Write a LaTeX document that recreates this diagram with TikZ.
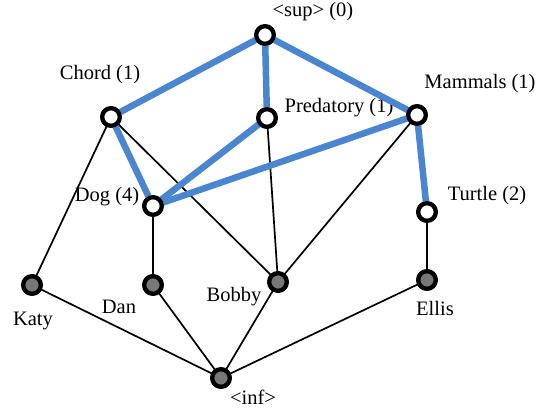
\documentclass[tikz,border=0pt]{standalone}
\usepackage{fontspec}
\setmainfont{Liberation Serif}
\definecolor{edgeblue}{RGB}{74,134,208}
\definecolor{fillgray}{RGB}{120,120,120}
\begin{document}
\begin{tikzpicture}[x=1pt,y=-1pt,
  concept/.style={circle,draw=black,line width=4.2pt,fill=white,minimum size=17.5pt,inner sep=0pt},
  object/.style={circle,draw=black,line width=4.2pt,fill=fillgray,minimum size=17.5pt,inner sep=0pt},
  lab/.style={font=\fontsize{20.5}{24}\selectfont,inner sep=0pt},
  blueedge/.style={edgeblue,line width=6.5pt},
  blackedge/.style={black,line width=1.7pt}]
\useasboundingbox (0,0) rectangle (539,414);
% nodes
\node[concept] (sup) at (265,35) {};
\node[concept] (chord) at (111,117) {};
\node[concept] (pred) at (267,118) {};
\node[concept] (mamm) at (417,115) {};
\node[concept] (dog) at (153,206) {};
\node[concept] (turtle) at (427,212) {};
\node[object] (katy) at (32,285) {};
\node[object] (dan) at (153,285) {};
\node[object] (bobby) at (278,282) {};
\node[object] (ellis) at (427,280) {};
\node[object] (inf) at (221,378) {};
% labels
\node[lab] (lsup) at (313,12) {<sup> (0)};
\node[lab] (lchord) at (100,75) {Chord (1)};
\node[lab] (lpred) at (339,108) {Predatory (1)};
\node[lab] (lmamm) at (480,84) {Mammals (1)};
\node[lab] (ldog) at (107,197) {Dog (4)};
\node[lab] (lturtle) at (487,196) {Turtle (2)};
\node[lab] (lkaty) at (33,321) {Katy};
\node[lab] (ldan) at (119,307) {Dan};
\node[lab] (lbobby) at (234,297) {Bobby};
\node[lab] (lellis) at (435,308) {Ellis};
\node[lab] (linf) at (253,397) {<inf>};
% edges
\draw[blackedge] (chord.center) -- (katy.center);
\draw[blackedge] (chord.center) -- (bobby.center);
\draw[blackedge] (pred.center) -- (bobby.center);
\draw[blackedge] (mamm.center) -- (bobby.center);
\draw[blackedge] (dog.center) -- (dan.center);
\draw[blackedge] (turtle.center) -- (ellis.center);
\draw[blackedge] (katy.center) -- (inf.center);
\draw[blackedge] (dan.center) -- (inf.center);
\draw[blackedge] (bobby.center) -- (inf.center);
\draw[blackedge] (ellis.center) -- (inf.center);
\draw[blueedge] (sup.center) -- (chord.center);
\draw[blueedge] (sup.center) -- (pred.center);
\draw[blueedge] (sup.center) -- (mamm.center);
\draw[blueedge] (chord.center) -- (dog.center);
\draw[blueedge] (pred.center) -- (dog.center);
\draw[blueedge] (mamm.center) -- (dog.center);
\draw[blueedge] (mamm.center) -- (turtle.center);
% redraw nodes on top of the edges
\foreach \n/\s in {sup/concept,chord/concept,pred/concept,mamm/concept,dog/concept,turtle/concept,katy/object,dan/object,bobby/object,ellis/object,inf/object}{
  \node[\s] at (\n) {};
}
\end{tikzpicture}
\end{document}
